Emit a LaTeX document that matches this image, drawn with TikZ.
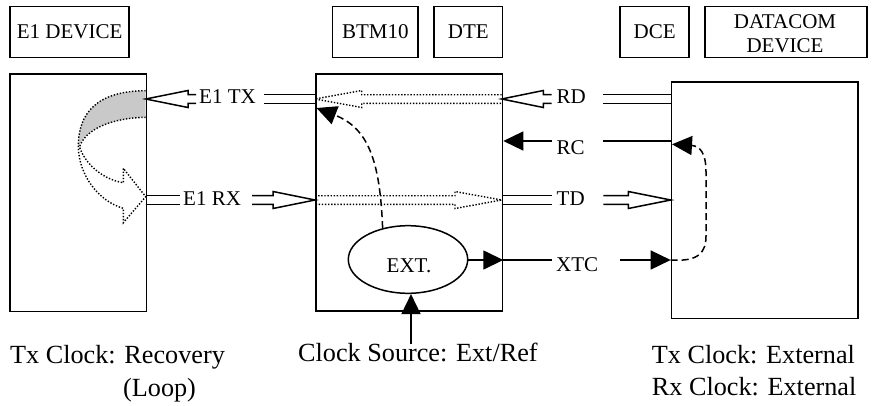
\documentclass[tikz,border=0pt]{standalone}
\usepackage{fontspec}
\setmainfont{Liberation Serif}
\usetikzlibrary{arrows.meta,calc,shapes.geometric}

\tikzset{
  lw/.style={line width=1.5pt},
  boxst/.style={draw, line width=1.6pt, inner sep=0pt, anchor=north west},
  lbl/.style={inner sep=0pt, font=\fontsize{21}{25}\selectfont},
  bigtxt/.style={inner sep=0pt, font=\fontsize{26.2}{32}\selectfont},
  solidtip/.style={-{Triangle[length=20pt,width=19pt]}},
  dotst/.style={line width=1.4pt, dash pattern=on 1.4pt off 1.7pt},
  dashst/.style={line width=1.5pt, dash pattern=on 7pt off 4pt},
}
% hollow arrow: tip x, y, back x, shaft end x, style
\newcommand\hlarrow[5]{%
  \draw[#5] (#4,#2-4.3) -- (#3,#2-4.3) -- (#3,#2-8.5) -- (#1,#2)
    -- (#3,#2+8.5) -- (#3,#2+4.3) -- (#4,#2+4.3);}
% double line: from x, to x, y, style
\newcommand\dblline[4]{%
  \draw[#4] (#1,#3-4.3) -- (#2,#3-4.3) (#1,#3+4.3) -- (#2,#3+4.3);}

\begin{document}
\begin{tikzpicture}[x=1pt,y=-1pt]
\useasboundingbox (0,0) rectangle (872,405);

% ---- top title boxes
\node[boxst, minimum width=119pt, minimum height=51pt] (e1dev) at (9.3,5.7) {};
\node[lbl] at (e1dev.center) {E1 DEVICE};
\node[boxst, minimum width=85.6pt, minimum height=51pt] (btmt) at (331.7,5.7) {};
\node[lbl] at (btmt.center) {BTM10};
\node[boxst, minimum width=68.4pt, minimum height=51pt] (dtet) at (433.3,5.7) {};
\node[lbl] at (dtet.center) {DTE};
\node[boxst, minimum width=69pt, minimum height=51pt] (dcet) at (619.3,5.7) {};
\node[lbl] at (dcet.center) {DCE};
\node[boxst, minimum width=161.7pt, minimum height=51pt] (dcom) at (704.3,5.7) {};
\node[lbl, align=center] at (785,34.2) {DATACOM\\[-1pt]DEVICE};

% ---- left curved loop arrow (drawn before box)
\fill[gray!42] (145.7,90.7) .. controls (97,91) and (78,113) .. (78.3,147)
   .. controls (85,130) and (110,118) .. (145.7,117.3) -- cycle;
\draw[dotst] (145.7,90.7) .. controls (97,91) and (78,113) .. (78.3,147)
   .. controls (79,175) and (98,201) .. (123.3,208.3)
   -- (123.3,222.7) -- (145.7,196.7) -- (123.3,168.3) -- (123.3,182.7)
   .. controls (105,180) and (86,166) .. (79.5,147)
   .. controls (85,130) and (110,118) .. (145.7,117.3);

% ---- main boxes
\node[boxst, minimum width=136.4pt, minimum height=237.4pt] (dev1) at (9.3,73.3) {};
\node[boxst, minimum width=186.7pt, minimum height=236.7pt] (bbox) at (315,73.3) {};
\node[boxst, minimum width=186.6pt, minimum height=236.5pt] (dev2) at (670.7,81) {};

% ---- EXT ellipse
\node[draw, lw, ellipse, minimum width=119.4pt, minimum height=67.6pt, inner sep=0pt] (ext) at (408,259.5) {};
\node[lbl, anchor=base] at (409,272.3) {EXT.};

% ---- row 1 : E1 TX / RD
\hlarrow{145.7}{99}{188}{196}{lw}
\node[lbl, anchor=base west] (e1tx) at (199,103.3) {E1 TX};
\dblline{264}{315}{99}{lw}
\hlarrow{315}{99}{361.7}{501.7}{dotst}
\hlarrow{501.7}{99}{543.3}{551.7}{lw}
\node[lbl, anchor=base west] (rd) at (556.5,103.3) {RD};
\dblline{603.3}{670.7}{99}{lw}

% ---- row 2 : RC
\node[lbl, anchor=base west] (rc) at (556.5,154.8) {RC};
\coordinate (rcA) at (551.7,141);
\coordinate (rcB) at (603.3,141);
\draw[lw, solidtip] (rcA) -- (bbox.east |- rcA);
\draw[lw] (rcB) -- (dev2.west |- rcB);

% ---- row 3 : E1 RX / TD
\dblline{145.7}{180}{200}{lw}
\node[lbl, anchor=base west] (e1rx) at (183,205.2) {E1 RX};
\hlarrow{315}{200}{273}{252}{lw}
\hlarrow{501.7}{200}{455}{315}{dotst}
\dblline{501.7}{551.7}{200}{lw}
\node[lbl, anchor=base west] (td) at (556.5,205.7) {TD};
\hlarrow{670.7}{200}{628.3}{603.3}{lw}

% ---- row 4 : XTC
\coordinate (xtA) at (551.7,260);
\coordinate (xtB) at (620,260);
\draw[lw, solidtip] (ext.east |- xtA) -- (bbox.east |- xtA);
\draw[lw] (bbox.east |- xtA) -- (xtA);
\node[lbl, anchor=base west] (xtc) at (556,271.7) {XTC};
\draw[lw, solidtip] (xtB) -- (dev2.west |- xtB);

% ---- dashed clock paths
\draw[dashst, -{Triangle[length=20pt,width=19pt]}] (ext.129.6)
   .. controls (380,160) and (368,128) .. (316.5,108);
\draw[dashst, -{Triangle[length=20pt,width=19pt]}] (dev2.west |- xtB)
   .. controls (699,262) and (706,252) .. (706,236) -- (706,172)
   .. controls (706,153) and (700,146) .. (672,144.3);

% ---- bottom captions
\node[bigtxt, anchor=base west] (txrec) at (10,363.3) {Tx Clock: Recovery};
\node[bigtxt, anchor=base west] (loop) at (123,396.2) {(Loop)};
\node[bigtxt, anchor=base west] (clk) at (298,361.7) {Clock Source: Ext/Ref};
\coordinate (csrc) at (411,344);
\draw[lw, solidtip] (csrc) -- (csrc |- ext.south);
\node[bigtxt, anchor=base west] (txext) at (651.7,363.3) {Tx Clock: External};
\node[bigtxt, anchor=base west] (rxext) at (651.7,395) {Rx Clock: External};
\end{tikzpicture}
\end{document}
